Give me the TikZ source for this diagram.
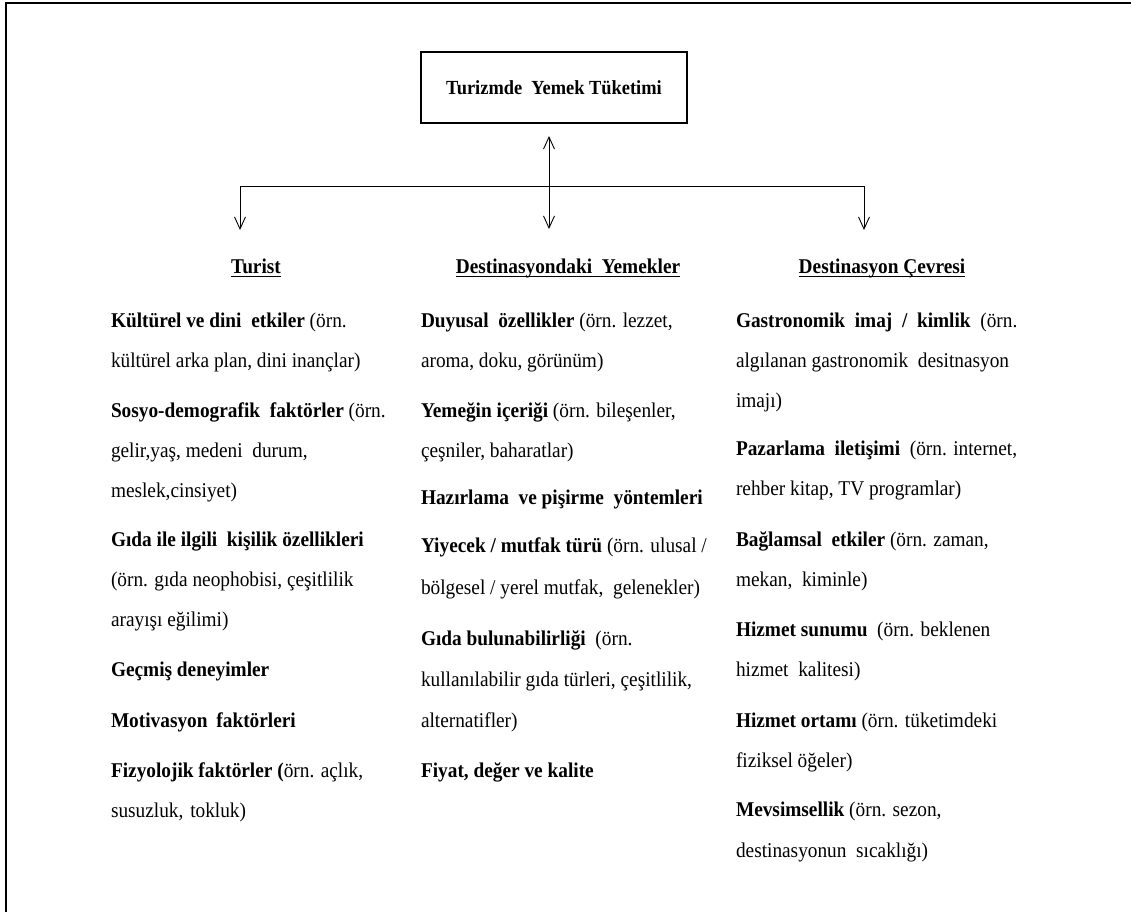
\documentclass[tikz,border=0pt]{standalone}
\usepackage{fontspec}
\setmainfont{Liberation Serif}[FakeStretch=0.92]
\usetikzlibrary{arrows.meta}
\begin{document}
\begin{tikzpicture}[x=1pt,y=-1pt,
  every node/.style={inner sep=0pt, outer sep=0pt, font=\fontsize{21}{25}\selectfont},
  itemline/.style={anchor=base west},
  hdr/.style={anchor=base, font=\fontsize{21}{25}\selectfont\bfseries},
  conn/.style={line width=0.9pt},
  barb/.style={-{Straight Barb[length=12pt,width=11pt,line width=0.9pt]}},
  dblbarb/.style={{Straight Barb[length=12pt,width=11pt,line width=0.9pt]}-{Straight Barb[length=12pt,width=11pt,line width=0.9pt]}},
  ulined/.style={line width=1.2pt}
]
\useasboundingbox (0,0) rectangle (1131,912);
\fill[white] (0,0) rectangle (1131,912);

% page frame (top and left edges)
\draw[line width=2.5pt] (6,912) -- (6,3) -- (1131,3);

% central concept
\node[draw, line width=1.8pt, minimum width=266pt, minimum height=71pt,
      font=\fontsize{20}{24}\selectfont\bfseries] (title) at (554,87.5) {Turizmde\ \ Yemek Tüketimi};

% branching connectors
\coordinate (jL) at (240,186);
\coordinate (jR) at (864,186);
\coordinate (aL) at (240,230);
\coordinate (aR) at (864,230);
\coordinate (mT) at (549,136);
\coordinate (mB) at (549,229);
\draw[conn] (jL) -- (jR);
\draw[conn,barb] (jL) -- (aL);
\draw[conn,barb] (jR) -- (aR);
\draw[conn,dblbarb] (mT) -- (mB);

% column headings
\node[hdr] (hT) at (256,273) {Turist};
\node[hdr] (hM) at (568,273) {Destinasyondaki\ \ Yemekler};
\node[hdr] (hC) at (882,273) {Destinasyon Çevresi};
\foreach \h in {hT,hM,hC}
  \draw[ulined] ([yshift=-3.5pt]\h.base west) -- ([yshift=-3.5pt]\h.base east);

% Turist
\node[itemline] (t1)  at (111,327) {\textbf{Kültürel ve dini\ \ etkiler} (örn.};
\node[itemline] (t2)  at (111,367) {kültürel arka plan, dini inançlar)};
\node[itemline] (t3)  at (111,417) {\textbf{Sosyo-demografik\ \ faktörler} (örn.};
\node[itemline] (t4)  at (111,457) {gelir,yaş, medeni\ \ durum,};
\node[itemline] (t5)  at (111,497) {meslek,cinsiyet)};
\node[itemline] (t6)  at (111,546) {\textbf{Gıda ile ilgili\ \ kişilik özellikleri}};
\node[itemline] (t7)  at (111,586) {(örn. gıda neophobisi, çeşitlilik};
\node[itemline] (t8)  at (111,626) {arayışı eğilimi)};
\node[itemline] (t9)  at (111,676) {\textbf{Geçmiş deneyimler}};
\node[itemline] (t10) at (111,727) {\textbf{Motivasyon\hspace{4pt} faktörleri}};
\node[itemline] (t11) at (111,777) {\textbf{Fizyolojik faktörler (}örn. açlık,};
\node[itemline] (t12) at (111,817) {susuzluk,\hspace{2pt} tokluk)};

% Destinasyondaki Yemekler
\node[itemline] (m1)  at (421,327) {\textbf{Duyusal\ \ özellikler} (örn. lezzet,};
\node[itemline] (m2)  at (421,367) {aroma, doku, görünüm)};
\node[itemline] (m3)  at (421,417) {\textbf{Yemeğin içeriği} (örn. bileşenler,};
\node[itemline] (m4)  at (421,457) {çeşniler, baharatlar)};
\node[itemline] (m5)  at (421,504) {\textbf{Hazırlama\ \ ve pişirme\ \ yöntemleri}};
\node[itemline] (m6)  at (421,552) {\textbf{Yiyecek / mutfak türü} (örn. ulusal /};
\node[itemline] (m7)  at (421,594) {bölgesel / yerel mutfak,\ \ gelenekler)};
\node[itemline] (m8)  at (421,645) {\textbf{Gıda bulunabilirliği}\ \ (örn.};
\node[itemline] (m9)  at (421,686) {kullanılabilir gıda türleri, çeşitlilik,};
\node[itemline] (m10) at (421,727) {alternatifler)};
\node[itemline] (m11) at (421,777) {\textbf{Fiyat, değer ve kalite}};

% Destinasyon Çevresi
\node[itemline] (c1)  at (736,327) {\textbf{Gastronomik\ \ imaj\ \ /\ \ kimlik}\ \ (örn.};
\node[itemline] (c2)  at (736,367) {algılanan gastronomik\ \ desitnasyon};
\node[itemline] (c3)  at (736,407) {imajı)};
\node[itemline] (c4)  at (736,455) {\textbf{Pazarlama\ \ iletişimi}\ \ (örn. internet,};
\node[itemline] (c5)  at (736,495) {rehber kitap, TV programlar)};
\node[itemline] (c6)  at (736,546) {\textbf{Bağlamsal\ \ etkiler} (örn. zaman,};
\node[itemline] (c7)  at (736,586) {mekan,\ \ kiminle)};
\node[itemline] (c8)  at (736,636) {\textbf{Hizmet sunumu}\ \ (örn. beklenen};
\node[itemline] (c9)  at (736,676) {hizmet\ \ kalitesi)};
\node[itemline] (c10) at (736,727) {\textbf{Hizmet ortamı} (örn. tüketimdeki};
\node[itemline] (c11) at (736,767) {fiziksel öğeler)};
\node[itemline] (c12) at (736,816) {\textbf{Mevsimsellik} (örn. sezon,};
\node[itemline] (c13) at (736,857) {destinasyonun\ \ sıcaklığı)};
\end{tikzpicture}
\end{document}
